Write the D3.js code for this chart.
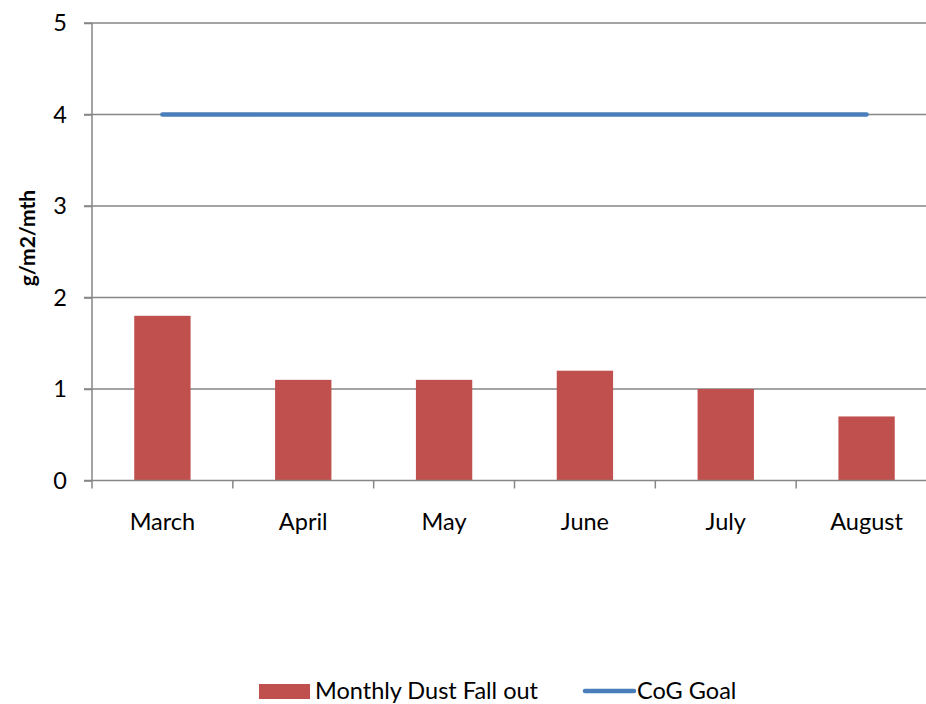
<!DOCTYPE html>
<html>
<head>
<meta charset="utf-8">
<script src="https://cdn.jsdelivr.net/npm/d3@7"></script>
<style>
html,body{margin:0;padding:0;background:#fff;}
svg{display:block;font-family:Lato,"Open Sans",sans-serif;}
</style>
</head>
<body>
<svg id="chart" width="926" height="704"></svg>
<script>
const categories = ["March","April","May","June","July","August"];
const dustValues = [1.8,1.1,1.1,1.2,1.0,0.7];
const goalValues = [4,4,4,4,4,4];
const yTicks = [0,1,2,3,4,5];
const seriesNames = ["Monthly Dust Fall out","CoG Goal"];

(function(){
const svg = d3.select("#chart");
const pLeft = 92, pRight = 937, pTop = 23, pBottom = 480.5;
const fs = 23.5;
const x = d3.scaleBand().domain(categories).range([pLeft, pRight]).paddingInner(0.6).paddingOuter(0.3);
const y = d3.scaleLinear().domain([0,5]).range([pBottom, pTop]);
const gridColor = "#868686";

svg.append("g").selectAll("line").data(yTicks.filter(d=>d>0)).join("line")
  .attr("x1", pLeft-8).attr("x2", pRight)
  .attr("y1", d=>y(d)).attr("y2", d=>y(d))
  .attr("stroke", gridColor).attr("stroke-width", 1.5);

const yAxis = svg.append("g").attr("transform", `translate(${pLeft},0)`)
  .call(d3.axisLeft(y).tickValues(yTicks).tickSize(8).tickPadding(17).tickFormat(d3.format("d")));
yAxis.select(".domain").attr("stroke", gridColor).attr("stroke-width", 1.5).attr("d", `M0,${pTop}V${pBottom}`);
yAxis.selectAll(".tick line").attr("stroke", gridColor).attr("stroke-width", 1.5);
yAxis.selectAll(".tick text").attr("font-size", fs).attr("fill", "#000").attr("font-family", "Lato, 'Open Sans', sans-serif");

svg.append("g").selectAll("rect").data(dustValues).join("rect")
  .attr("x", (d,i)=>x(categories[i]))
  .attr("width", x.bandwidth())
  .attr("y", d=>y(d))
  .attr("height", d=>y(0)-y(d))
  .attr("fill", "#C0504D");

const step = x.step();
const xAxisG = svg.append("g");
xAxisG.append("line").attr("x1", pLeft-8).attr("x2", pRight).attr("y1", y(0)).attr("y2", y(0))
  .attr("stroke", gridColor).attr("stroke-width", 1.5);
const tickXs = d3.range(categories.length+1).map(i => pLeft + i*step);
xAxisG.selectAll("line.t").data(tickXs).join("line").attr("class","t")
  .attr("x1", d=>d).attr("x2", d=>d).attr("y1", y(0)).attr("y2", y(0)+8)
  .attr("stroke", gridColor).attr("stroke-width", 1.5);
xAxisG.selectAll("text").data(categories).join("text")
  .attr("x", d=>x(d)+x.bandwidth()/2).attr("y", 530)
  .attr("text-anchor","middle").attr("font-size", fs).attr("fill","#000")
  .text(d=>d);

const line = d3.line().x((d,i)=>x(categories[i])+x.bandwidth()/2).y(d=>y(d));
svg.append("path").datum(goalValues).attr("d", line)
  .attr("fill","none").attr("stroke","#4A7EBB").attr("stroke-width",4.5).attr("stroke-linecap","round");

svg.append("text").attr("transform","translate(35,238) rotate(-90)")
  .attr("text-anchor","middle").attr("font-size",21).attr("font-weight","bold").attr("fill","#000")
  .text("g/m2/mth");

const lg = svg.append("g");
lg.append("rect").attr("x",259).attr("y",684).attr("width",51).attr("height",15).attr("fill","#C0504D");
lg.append("text").attr("x",315).attr("y",699).attr("font-size",fs).attr("fill","#000").text(seriesNames[0]);
lg.append("line").attr("x1",585).attr("x2",634).attr("y1",691).attr("y2",691)
  .attr("stroke","#4A7EBB").attr("stroke-width",4.5).attr("stroke-linecap","round");
lg.append("text").attr("x",637).attr("y",699).attr("font-size",fs).attr("fill","#000").text(seriesNames[1]);
})();
</script>
</body>
</html>
